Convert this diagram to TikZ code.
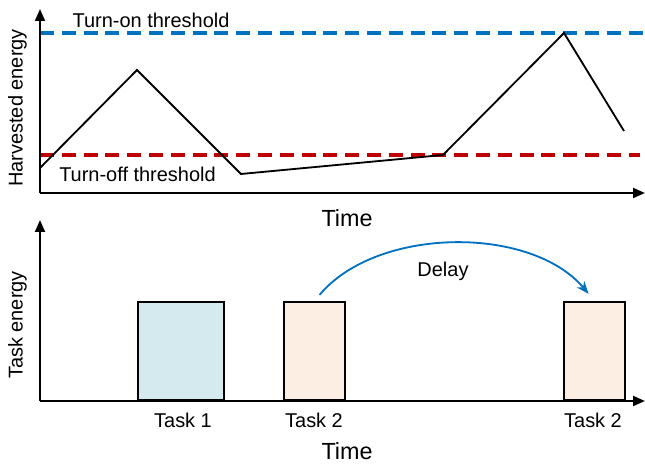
\documentclass[tikz,border=0pt]{standalone}
\usepackage{fontspec}
\setmainfont{Liberation Sans}
\usepackage{tikz}
\usetikzlibrary{arrows.meta}
\definecolor{onblue}{RGB}{0,112,192}
\definecolor{offred}{RGB}{192,0,0}
\definecolor{taskblue}{RGB}{212,234,238}
\definecolor{taskpeach}{RGB}{252,238,226}

\begin{document}
\begin{tikzpicture}[x=0.025cm,y=0.025cm]
  \tikzstyle{every node}=[font=\fontsize{14.2}{17}\selectfont,inner sep=0pt]
  \tikzstyle{axis}=[line width=1.6pt,-{Triangle[length=8.5pt,width=7pt]}]
  \tikzstyle{threshold}=[line width=2.6pt,dash pattern=on 10pt off 5.5pt]
  \tikzstyle{taskbox}=[draw,line width=1.5pt,minimum height=2.45cm,anchor=south west]
  \tikzstyle{timelabel}=[font=\fontsize{16.6}{20}\selectfont]
  \useasboundingbox (0,0) rectangle (645,464);
  \coordinate (O1) at (40,271);
  \coordinate (O2) at (40,63);
  % harvested energy
  \draw[threshold,onblue] (40,431) -- (645,431);
  \draw[threshold,offred] (40,309) -- (640,309);
  \draw[line width=1.3pt] (40,296) -- (137,394) -- (241,290) -- (443,309)
        -- (564,431) -- (624,333);
  \draw[axis] (O1) -- (40,455);
  \draw[axis] (O1) -- (645,271);
  \path (151,444) node (on) {Turn-on threshold};
\path (137.5,289.5) node (off) {Turn-off threshold};
\path (17.5,356) node[rotate=90] (he) {Harvested energy};
\path (347,246) node[timelabel] (time1) {Time};
  % task energy
  \path (137,63) node[taskbox,fill=taskblue,minimum width=2.15cm] (t1) {};
\path (283,63) node[taskbox,fill=taskpeach,minimum width=1.525cm] (t2) {};
\path (563,63) node[taskbox,fill=taskpeach,minimum width=1.525cm] (t3) {};
  \draw[axis] (O2) -- (40,244);
  \draw[axis] (O2) -- (645,63);
  \path (183,44) node (l1) {Task 1};
\path (314,44) node (l2) {Task 2};
\path (593,44) node (l3) {Task 2};
\path (17.5,139) node[rotate=90] (te) {Task energy};
\path (347,13) node[timelabel] (time2) {Time};
\path (443,193) node (delay) {Delay};
  \draw[onblue,line width=1.3pt,-{Stealth[length=9pt,width=7pt]}]
        ([shift={(5,6)}]t2.north) to[out=50,in=130,looseness=0.85]
        ([shift={(-6,7)}]t3.north);
\end{tikzpicture}
\end{document}
